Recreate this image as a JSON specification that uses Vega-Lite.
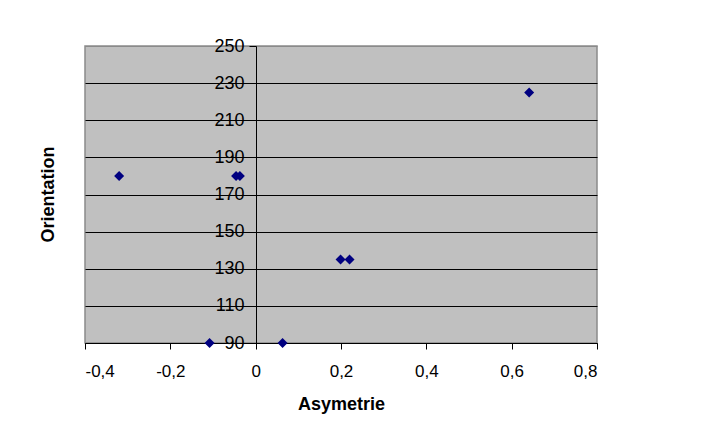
{
  "$schema": "https://vega.github.io/schema/vega-lite/v6.json",
  "width": 512,
  "height": 297,
  "autosize": {"type": "none"},
  "padding": {"left": 85, "top": 46, "right": 106, "bottom": 82},
  "background": "white",
  "config": {
    "locale": {"number": {"decimal": ",", "thousands": ".", "grouping": [3], "currency": ["", " €"], "minus": "-"}},
    "view": {"fill": "#c0c0c0", "stroke": "#8a8a8a", "strokeWidth": 1.5},
    "font": "Liberation Sans"
  },
  "data": {
    "values": [
      {"asymetrie": -0.32, "orientation": 180},
      {"asymetrie": -0.046, "orientation": 180},
      {"asymetrie": -0.037, "orientation": 180},
      {"asymetrie": -0.108, "orientation": 90},
      {"asymetrie": 0.063, "orientation": 90},
      {"asymetrie": 0.199, "orientation": 135},
      {"asymetrie": 0.22, "orientation": 135},
      {"asymetrie": 0.641, "orientation": 225}
    ]
  },
  "mark": {"type": "point", "shape": "diamond", "filled": true, "size": 100, "color": "#000080", "opacity": 1, "clip": false},
  "encoding": {
    "x": {
      "field": "asymetrie",
      "type": "quantitative",
      "scale": {"domain": [-0.4, 0.8], "nice": false, "zero": false},
      "axis": {
        "title": "Asymetrie",
        "values": [-0.4, -0.2, 0, 0.2, 0.4, 0.6, 0.8],
        "format": ".1~f",
        "grid": false,
        "domainColor": "black",
        "domainWidth": 1,
        "tickColor": "black",
        "tickSize": 6,
        "labelFont": "Liberation Sans",
        "labelFontSize": 17,
        "labelColor": "black",
        "labelPadding": 14,
        "titleFont": "Liberation Sans",
        "titleFontSize": 18,
        "titleFontWeight": "bold",
        "titleColor": "black",
        "titlePadding": 16
      }
    },
    "y": {
      "field": "orientation",
      "type": "quantitative",
      "scale": {"domain": [90, 250], "nice": false, "zero": false},
      "axis": {
        "title": "Orientation",
        "values": [90, 110, 130, 150, 170, 190, 210, 230, 250],
        "offset": -171,
        "grid": true,
        "gridColor": {"condition": {"test": "datum.value == 250", "value": "#8a8a8a"}, "value": "black"},
        "gridWidth": 1,
        "gridOpacity": 1,
        "domainColor": "black",
        "domainWidth": 1,
        "tickColor": "black",
        "tickSize": 7,
        "labelFont": "Liberation Sans",
        "labelFontSize": 18,
        "labelColor": "black",
        "labelPadding": 5,
        "titleFont": "Liberation Sans",
        "titleFontSize": 18,
        "titleFontWeight": "bold",
        "titleColor": "black",
        "titleX": -208,
        "titleY": 148,
        "titleBaseline": "middle"
      }
    }
  }
}
